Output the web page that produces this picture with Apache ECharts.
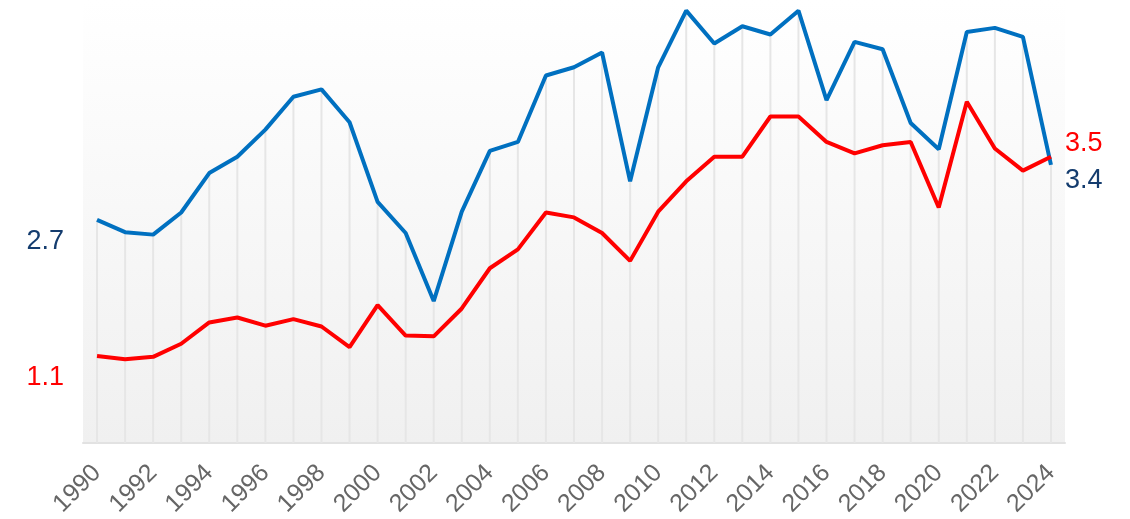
<!DOCTYPE html>
<html>
<head>
<meta charset="utf-8">
<script src="https://cdn.jsdelivr.net/npm/echarts@6/dist/echarts.min.js"></script>
<style>html,body{margin:0;padding:0;background:#fff}#c{width:1130px;height:519px}</style>
</head>
<body>
<div id="c"></div>
<script>
const years = ['1990','1991','1992','1993','1994','1995','1996','1997','1998','1999','2000','2001','2002','2003','2004','2005','2006','2007','2008','2009','2010','2011','2012','2013','2014','2015','2016','2017','2018','2019','2020','2021','2022','2023','2024'];
const blueValues = [2.72,2.57,2.54,2.81,3.29,3.49,3.82,4.22,4.31,3.91,2.94,2.56,1.73,2.82,3.56,3.67,4.48,4.58,4.76,3.19,4.58,5.27,4.87,5.08,4.98,5.27,4.18,4.89,4.80,3.90,3.58,5.01,5.06,4.95,3.39];
const redValues = [1.06,1.02,1.05,1.21,1.47,1.53,1.43,1.51,1.42,1.17,1.68,1.31,1.30,1.64,2.13,2.36,2.81,2.75,2.56,2.22,2.82,3.19,3.49,3.49,3.98,3.98,3.67,3.53,3.63,3.67,2.87,4.16,3.59,3.32,3.49];

const FONT = 'Liberation Sans, Arial, sans-serif';
const NAVY = '#143c6e';
const BLUE = '#0070c0';
const RED = '#ff0000';

function withEndLabels(vals, color, leftOffY, rightOffY) {
  const n = vals.length;
  return vals.map((v, i) => {
    if (i === 0) {
      return { value: v, label: { show: true, position: 'left', distance: 33, offset: [0, leftOffY], color: color, fontSize: 27, fontFamily: FONT, formatter: p => p.value.toFixed(1) } };
    }
    if (i === n - 1) {
      return { value: v, label: { show: true, position: 'right', distance: 14, offset: [0, rightOffY], color: color, fontSize: 27, fontFamily: FONT, formatter: p => p.value.toFixed(1) } };
    }
    return v;
  });
}

const dropValues = blueValues.map((b, i) => Math.max(b, redValues[i]));

const chart = echarts.init(document.getElementById('c'), null, { renderer: 'canvas' });
chart.setOption({
  animation: false,
  grid: {
    left: 83, right: 65, top: 0, bottom: 76,
    outerBoundsMode: 'none', containLabel: false,
    show: true, borderWidth: 0,
    backgroundColor: new echarts.graphic.LinearGradient(0, 0, 0, 1, [
      { offset: 0, color: '#ffffff' },
      { offset: 1, color: '#f0f0f0' }
    ])
  },
  xAxis: {
    type: 'category',
    data: years,
    boundaryGap: true,
    axisLine: { show: true, lineStyle: { color: '#e2e2e2', width: 2 } },
    axisTick: { show: false },
    splitLine: { show: false },
    axisLabel: { interval: 1, rotate: 45, color: '#666666', fontSize: 25, fontFamily: FONT, margin: 26 }
  },
  yAxis: {
    type: 'value', min: 0, max: 5.4, show: false,
    splitLine: { show: false }
  },
  series: [
    {
      type: 'bar', data: dropValues, barWidth: 2, z: 1, silent: true,
      itemStyle: { color: '#e6e6e6' }
    },
    {
      type: 'line', data: withEndLabels(blueValues, NAVY, 22, 16), z: 3,
      symbol: 'circle', symbolSize: 0, showSymbol: true, showAllSymbol: true,
      lineStyle: { color: BLUE, width: 4 }, itemStyle: { color: BLUE }
    },
    {
      type: 'line', data: withEndLabels(redValues, RED, 22, -13), z: 4,
      symbol: 'circle', symbolSize: 0, showSymbol: true, showAllSymbol: true,
      lineStyle: { color: RED, width: 4 }, itemStyle: { color: RED }
    }
  ]
});
</script>
</body>
</html>
